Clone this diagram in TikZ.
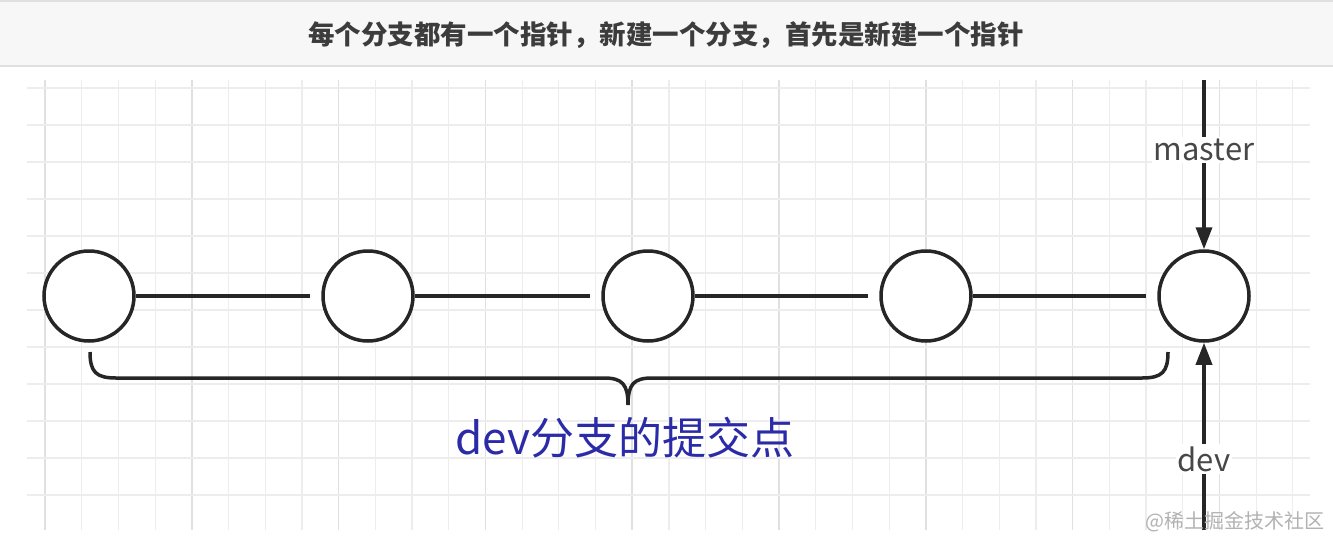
\documentclass[tikz,border=0pt]{standalone}
\usepackage{fontspec}
\setmainfont{Noto Sans CJK SC}
\usetikzlibrary{arrows.meta}
\definecolor{minorc}{HTML}{EDEDED}
\definecolor{majorc}{HTML}{E0E0E0}
\definecolor{headbg}{HTML}{F7F7F7}
\definecolor{ink}{HTML}{262626}
\definecolor{bluet}{HTML}{2B2BA8}
\tikzset{
  commit/.style={circle,draw=ink,line width=3.5pt,minimum size=90pt,inner sep=0pt},
  link/.style={draw=ink,line width=3.5pt},
  ptr/.style={draw=ink,line width=3.5pt,-{Triangle[length=22pt,width=16pt]}},
  lbl/.style={text=ink!85,font=\fontsize{31}{36}\selectfont,inner sep=2pt}
}
\begin{document}
\begin{tikzpicture}[x=1pt,y=-1pt]
\useasboundingbox (0,0) rectangle (1333,541);
\fill[white] (0,0) rectangle (1333,541);
% header
\fill[headbg] (0,0) rectangle (1333,66);
\draw[majorc,line width=2pt] (0,66) -- (1333,66);
\draw[majorc,line width=2pt] (0,1) -- (1333,1);
\node[font=\bfseries\fontsize{26.5}{30}\selectfont,text=ink!90] (title) at (666,35) {每个分支都有一个指针，新建一个分支，首先是新建一个指针};
% grid
\foreach \i in {0,...,34} {
  \pgfmathsetmacro\xx{45+\i*36.7}
  \pgfmathtruncatemacro\m{mod(\i,4)}
  \ifnum\m=0 \draw[majorc,line width=1.5pt] (\xx,80) -- (\xx,530);
  \else \draw[minorc,line width=1.2pt] (\xx,80) -- (\xx,530);\fi
}
\foreach \j in {0,...,11} {
  \pgfmathsetmacro\yy{88+\j*37}
  \draw[minorc,line width=1.2pt] (27,\yy) -- (1310,\yy);
}
% commits
\node[commit,fill=white] (c1) at (89,296) {};
\node[commit,fill=white] (c2) at (368,296) {};
\node[commit,fill=white] (c3) at (648,296) {};
\node[commit,fill=white] (c4) at (926,296) {};
\node[commit,fill=white] (c5) at (1204,296) {};
\foreach \a/\b in {c1/c2,c2/c3,c3/c4,c4/c5}{
  \draw[link] (\a.east) -- ([xshift=-11pt]\b.west);
}
% master pointer
\coordinate (mtop) at (1204,80);
\node[lbl,fill=white] (master) at (1204,150) {master};
\draw[link] (mtop) -- (master.north);
\draw[ptr] (master.south) -- (c5.north);
% dev pointer
\coordinate (dbot) at (1204,530);
\node[lbl,fill=white] (dev) at (1204,459) {dev};
\draw[link] (dbot) -- (dev.south);
\draw[ptr] (dev.north) -- (c5.south);
% brace
\draw[ink,line width=3.5pt] (90,352) .. controls (90,372) and (96,378) .. (116,378) -- (604,378)
  .. controls (622,378) and (628,384) .. (628,405)
  .. controls (628,384) and (634,378) .. (652,378) -- (1142,378)
  .. controls (1162,378) and (1168,372) .. (1168,352);
\node[text=bluet,font=\fontsize{44}{50}\selectfont] (brlabel) at (625,438) {dev分支的提交点};
% watermark
\node[text=gray!60,font=\fontsize{20}{24}\selectfont,anchor=east] (wm) at (1328,522) {@稀土掘金技术社区};
\end{tikzpicture}
\end{document}
